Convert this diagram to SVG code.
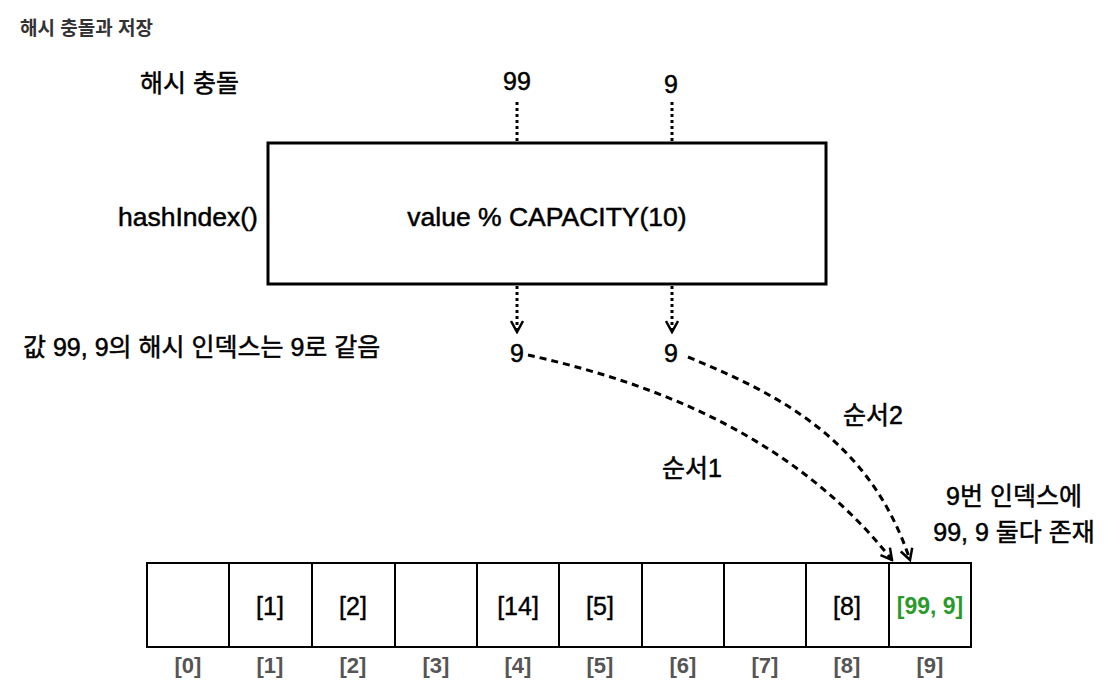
<svg xmlns="http://www.w3.org/2000/svg" width="1117" height="699" viewBox="0 0 1117 699">
<defs>
<style>
text{font-family:"Liberation Sans","Noto Sans CJK KR",sans-serif;fill:#000}
.t{font-size:25px;text-anchor:middle;stroke:#000;stroke-width:0.5}
.l{font-size:26.5px;stroke:#000;stroke-width:0.5}
.k{font-size:25px;stroke:#000;stroke-width:0.5}
.v{font-size:25px;text-anchor:middle;stroke:#000;stroke-width:0.4}
.idx{font-size:22px;font-weight:bold;fill:#555;text-anchor:middle}
.cell{fill:#fff;stroke:#000;stroke-width:2}
.dot{fill:none;stroke:#000;stroke-width:3;stroke-dasharray:3 3}
.dash{fill:none;stroke:#000;stroke-width:3;stroke-dasharray:7 5}
</style>
<marker id="open" viewBox="0 0 14 14" refX="12" refY="7" markerWidth="14" markerHeight="14" markerUnits="userSpaceOnUse" orient="auto">
<path d="M1,1 L12,7 L1,13" fill="none" stroke="#000" stroke-width="2.5"/>
</marker>
</defs>
<rect width="1117" height="699" fill="#fff"/>
<text x="20" y="35" style="font-size:19px;font-weight:bold;fill:#333">해시 충돌과 저장</text>
<g id="title-collision"><text x="140" y="92" class="k">해시 충돌</text></g>
<g id="in99"><text x="517" y="90" class="t">99</text></g>
<g id="in9"><text x="671" y="93" class="t">9</text></g>
<g id="hashbox">
<rect x="268" y="143" width="558" height="141" fill="#fff" stroke="#000" stroke-width="3"/>
<text x="547" y="226" class="l" text-anchor="middle">value % CAPACITY(10)</text>
</g>
<g id="hashIndex"><text x="118" y="226" class="l">hashIndex()</text></g>
<g id="note-same"><text x="23" y="356" class="k">값 99, 9의 해시 인덱스는 9로 같음</text></g>
<g id="out1"><text x="517" y="362" class="t">9</text></g>
<g id="out2"><text x="671" y="362" class="t">9</text></g>
<g id="label1"><text x="692" y="477" class="t">순서1</text></g>
<g id="label2"><text x="873" y="424" class="t">순서2</text></g>
<g id="note-both">
<text x="1014" y="505" class="t">9번 인덱스에</text>
<text x="1014" y="541" class="t">99, 9 둘다 존재</text>
</g>
<g id="table">
<rect class="cell" x="147" y="563" width="82" height="84"/>
<rect class="cell" x="229" y="563" width="83" height="84"/>
<rect class="cell" x="312" y="563" width="83" height="84"/>
<rect class="cell" x="395" y="563" width="82" height="84"/>
<rect class="cell" x="477" y="563" width="82" height="84"/>
<rect class="cell" x="559" y="563" width="83" height="84"/>
<rect class="cell" x="642" y="563" width="82" height="84"/>
<rect class="cell" x="724" y="563" width="82" height="84"/>
<rect class="cell" x="806" y="563" width="83" height="84"/>
<rect class="cell" x="889" y="563" width="82" height="84"/>
<text x="270" y="615" class="v">[1]</text>
<text x="353" y="615" class="v">[2]</text>
<text x="518" y="615" class="v">[14]</text>
<text x="600" y="615" class="v">[5]</text>
<text x="847" y="615" class="v">[8]</text>
<text x="930" y="614" style="font-size:23px;font-weight:bold;fill:#2a9a2a;text-anchor:middle">[99, 9]</text>
<text x="188" y="673" class="idx">[0]</text>
<text x="270" y="673" class="idx">[1]</text>
<text x="353" y="673" class="idx">[2]</text>
<text x="436" y="673" class="idx">[3]</text>
<text x="518" y="673" class="idx">[4]</text>
<text x="600" y="673" class="idx">[5]</text>
<text x="683" y="673" class="idx">[6]</text>
<text x="765" y="673" class="idx">[7]</text>
<text x="847" y="673" class="idx">[8]</text>
<text x="930" y="673" class="idx">[9]</text>
</g>
<g id="connectors">
<line class="dot" x1="517" y1="102" x2="517" y2="143"/>
<line class="dot" x1="672" y1="102" x2="672" y2="143"/>
<line class="dot" x1="517" y1="286" x2="517" y2="332" marker-end="url(#open)"/>
<line class="dot" x1="672" y1="286" x2="672" y2="332" marker-end="url(#open)"/>
<path class="dash" d="M528,355 C640,380 790,430 892,560" marker-end="url(#open)"/>
<path class="dash" d="M688,357 C780,395 870,440 910,560" marker-end="url(#open)"/>
</g>
</svg>
